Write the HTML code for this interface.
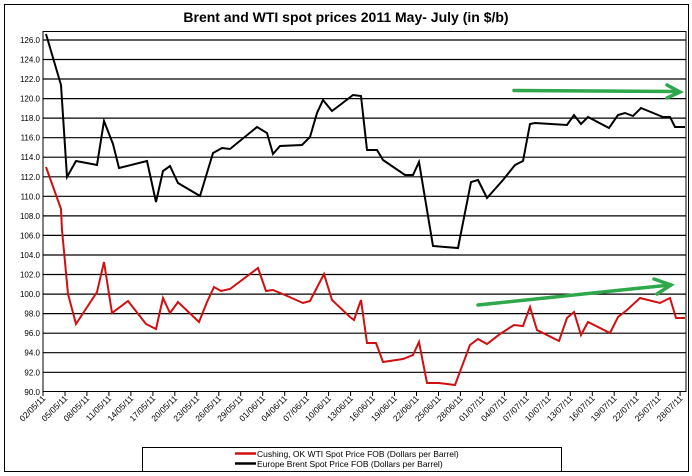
<!DOCTYPE html>
<html><head><style>body{margin:0;background:#fff}svg{display:block}</style></head><body>
<svg width="692" height="476" viewBox="0 0 692 476" xmlns="http://www.w3.org/2000/svg" font-family="Liberation Sans, sans-serif">
<rect x="4.5" y="4.5" width="684" height="467" fill="#fff" stroke="#000" stroke-width="1"/>
<text x="346" y="22" text-anchor="middle" font-size="14" font-weight="bold">Brent and WTI spot prices 2011 May- July (in $/b)</text>
<rect x="43" y="31.5" width="643" height="360" fill="#fff" stroke="#000"/>
<g stroke="#000" stroke-width="1.2">
<line x1="43" x2="686" y1="40" y2="40"/><line x1="43" x2="686" y1="59.5" y2="59.5"/><line x1="43" x2="686" y1="79" y2="79"/><line x1="43" x2="686" y1="98.6" y2="98.6"/><line x1="43" x2="686" y1="118.1" y2="118.1"/><line x1="43" x2="686" y1="137.7" y2="137.7"/><line x1="43" x2="686" y1="157.2" y2="157.2"/><line x1="43" x2="686" y1="176.8" y2="176.8"/><line x1="43" x2="686" y1="196.3" y2="196.3"/><line x1="43" x2="686" y1="215.9" y2="215.9"/><line x1="43" x2="686" y1="235.4" y2="235.4"/><line x1="43" x2="686" y1="255" y2="255"/><line x1="43" x2="686" y1="274.5" y2="274.5"/><line x1="43" x2="686" y1="294.1" y2="294.1"/><line x1="43" x2="686" y1="313.6" y2="313.6"/><line x1="43" x2="686" y1="333.2" y2="333.2"/><line x1="43" x2="686" y1="352.7" y2="352.7"/><line x1="43" x2="686" y1="372.3" y2="372.3"/>
</g>
<g font-size="8" text-anchor="end">
<text x="40" y="43">126.0</text><text x="40" y="62.5">124.0</text><text x="40" y="82">122.0</text><text x="40" y="101.6">120.0</text><text x="40" y="121.1">118.0</text><text x="40" y="140.7">116.0</text><text x="40" y="160.2">114.0</text><text x="40" y="179.8">112.0</text><text x="40" y="199.3">110.0</text><text x="40" y="218.9">108.0</text><text x="40" y="238.4">106.0</text><text x="40" y="258">104.0</text><text x="40" y="277.5">102.0</text><text x="40" y="297.1">100.0</text><text x="40" y="316.6">98.0</text><text x="40" y="336.2">96.0</text><text x="40" y="355.7">94.0</text><text x="40" y="375.3">92.0</text><text x="40" y="394.8">90.0</text>
</g>
<path stroke="#000" d="M43,391v5M65,391v5M86.9,391v5M108.9,391v5M130.9,391v5M152.9,391v5M174.8,391v5M196.8,391v5M218.8,391v5M240.7,391v5M262.7,391v5M284.7,391v5M306.6,391v5M328.6,391v5M350.6,391v5M372.6,391v5M394.5,391v5M416.5,391v5M438.5,391v5M460.4,391v5M482.4,391v5M504.4,391v5M526.3,391v5M548.3,391v5M570.3,391v5M592.3,391v5M614.2,391v5M636.2,391v5M658.2,391v5M680.1,391v5"/>
<g font-size="8.5" text-anchor="end">
<text transform="translate(46,399) rotate(-45)">02/05/11</text>
<text transform="translate(68,399) rotate(-45)">05/05/11</text>
<text transform="translate(89.9,399) rotate(-45)">08/05/11</text>
<text transform="translate(111.9,399) rotate(-45)">11/05/11</text>
<text transform="translate(133.9,399) rotate(-45)">14/05/11</text>
<text transform="translate(155.9,399) rotate(-45)">17/05/11</text>
<text transform="translate(177.8,399) rotate(-45)">20/05/11</text>
<text transform="translate(199.8,399) rotate(-45)">23/05/11</text>
<text transform="translate(221.8,399) rotate(-45)">26/05/11</text>
<text transform="translate(243.7,399) rotate(-45)">29/05/11</text>
<text transform="translate(265.7,399) rotate(-45)">01/06/11</text>
<text transform="translate(287.7,399) rotate(-45)">04/06/11</text>
<text transform="translate(309.6,399) rotate(-45)">07/06/11</text>
<text transform="translate(331.6,399) rotate(-45)">10/06/11</text>
<text transform="translate(353.6,399) rotate(-45)">13/06/11</text>
<text transform="translate(375.6,399) rotate(-45)">16/06/11</text>
<text transform="translate(397.5,399) rotate(-45)">19/06/11</text>
<text transform="translate(419.5,399) rotate(-45)">22/06/11</text>
<text transform="translate(441.5,399) rotate(-45)">25/06/11</text>
<text transform="translate(463.4,399) rotate(-45)">28/06/11</text>
<text transform="translate(485.4,399) rotate(-45)">01/07/11</text>
<text transform="translate(507.4,399) rotate(-45)">04/07/11</text>
<text transform="translate(529.3,399) rotate(-45)">07/07/11</text>
<text transform="translate(551.3,399) rotate(-45)">10/07/11</text>
<text transform="translate(573.3,399) rotate(-45)">13/07/11</text>
<text transform="translate(595.3,399) rotate(-45)">16/07/11</text>
<text transform="translate(617.2,399) rotate(-45)">19/07/11</text>
<text transform="translate(639.2,399) rotate(-45)">22/07/11</text>
<text transform="translate(661.2,399) rotate(-45)">25/07/11</text>
<text transform="translate(683.1,399) rotate(-45)">28/07/11</text>
</g>
<polyline fill="none" stroke="#000" stroke-width="2" points="46,34 61,85 67,177 76,161 97,165 104,121 113,144 119,168 147,161 156,202 163,171 170,166 178,183 200,196 213,153 222,148 230,149 257,127 267,133 273,154 280,146 302,145 310,137 317,113 323,100 332,111 340,105 353,95 361,96 367,150 377,150 383,160 405,175 413,175 419,162 433,246 445,247 458,248 471,182 478,180 487,198 503,180 515,165 523,161 530,124 535,123 567,125 574,115 581,124 588,117 609,128 618,115 625,113 633,116 641,108 663,117 670,117 675,127 685,127"/>
<polyline fill="none" stroke="#d01010" stroke-width="2" points="46,167 61,209 62,230 68,294 76,324 97,292 104,262 112,313 128,301 146,324 156,329 163,298 170,313 178,302 199,322 207,302 214,287 221,291 230,289 258,268 266,291 273,290 285,295 303,303 310,301 324,274 332,300 350,317 354,320 361,300 367,343 376,343 383,362 403,359 413,355 419,342 427,383 439,383 455,385 470,345 478,339 487,344 500,334 514,325 523,326 530,307 537,330 559,341 567,318 574,312 581,335 588,322 610,333 618,317 627,310 640,298 660,303 670,298 676,318 685,318"/>
<g stroke="#2ea84a" stroke-width="3.5" fill="none" stroke-linecap="round">
<line x1="514" y1="90.5" x2="678" y2="91.5"/><polyline points="667,85 680,92 667,98"/>
<line x1="478" y1="305" x2="670" y2="285"/><polyline points="654,279 671,285 657,294"/>
</g>
<rect x="142.5" y="447.5" width="419" height="24" fill="#fff" stroke="#000"/>
<line x1="235" x2="256" y1="453.5" y2="453.5" stroke="#d01010" stroke-width="2.5"/>
<line x1="235" x2="256" y1="463.5" y2="463.5" stroke="#000" stroke-width="2.5"/>
<text x="257" y="457" font-size="8.5">Cushing, OK WTI Spot Price FOB (Dollars per Barrel)</text>
<text x="257" y="467" font-size="8.5">Europe Brent Spot Price FOB (Dollars per Barrel)</text>
</svg>
</body></html>
